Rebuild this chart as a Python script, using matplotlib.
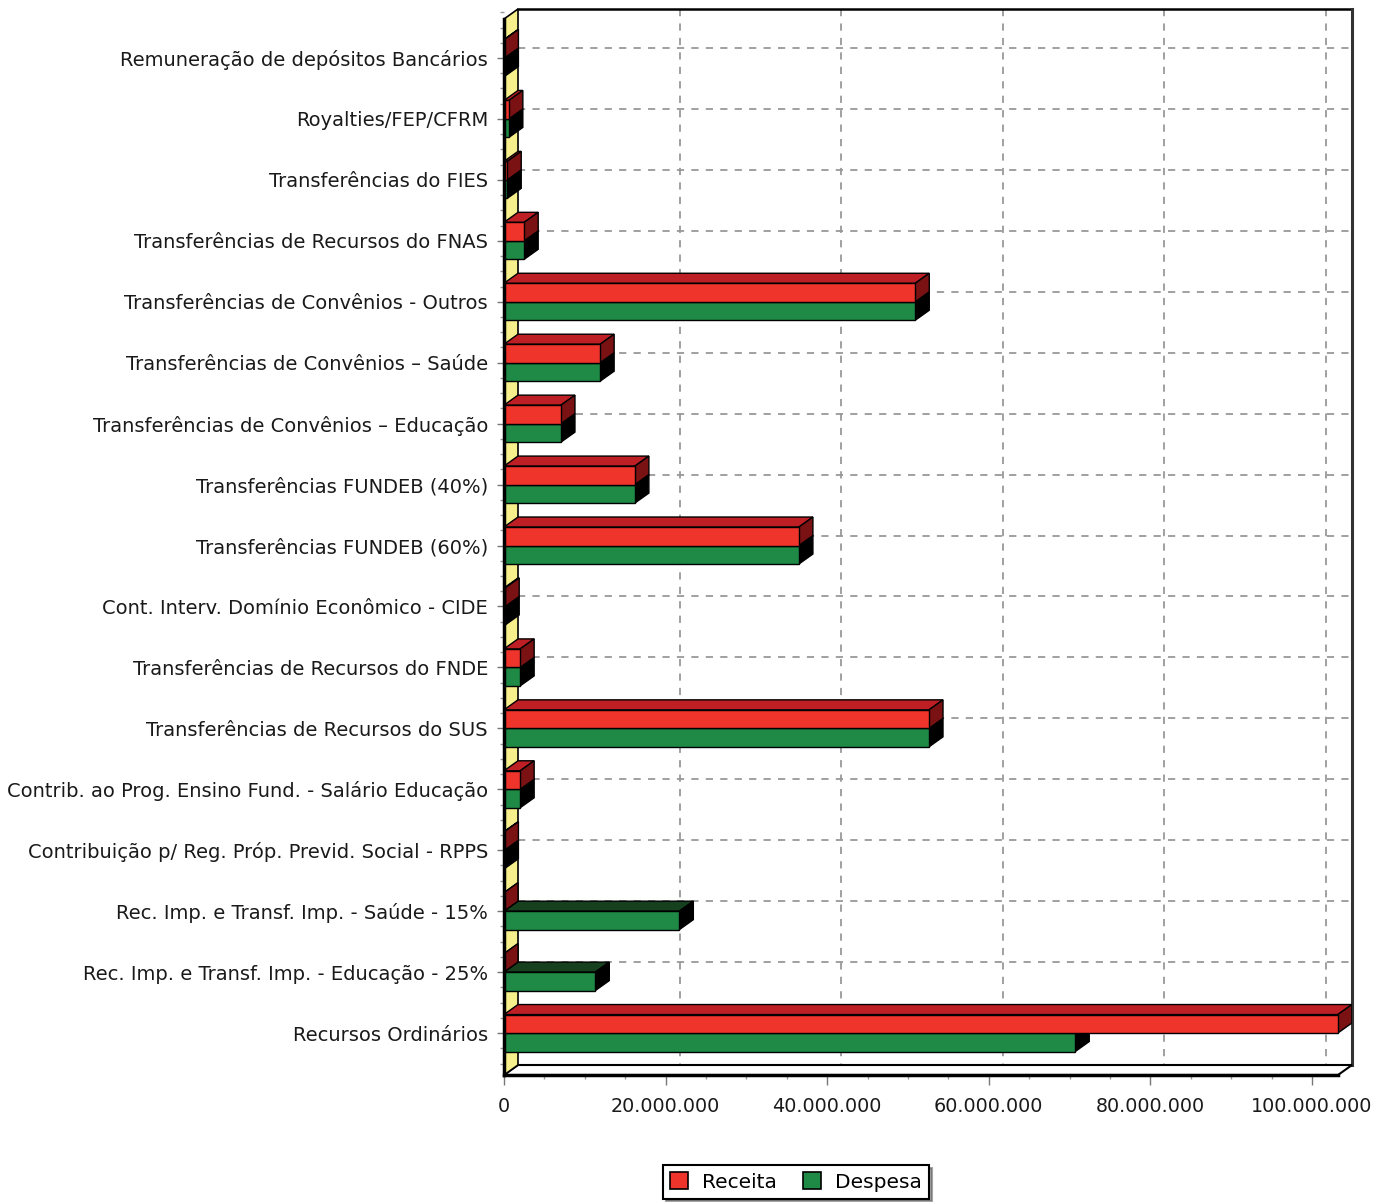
import numpy as np
import matplotlib.pyplot as plt
from matplotlib.patches import Polygon, Patch
from matplotlib.ticker import FuncFormatter, MultipleLocator

# Dados (R$)
categorias = [
    "Remuneração de depósitos Bancários",
    "Royalties/FEP/CFRM",
    "Transferências do FIES",
    "Transferências de Recursos do FNAS",
    "Transferências de Convênios - Outros",
    "Transferências de Convênios – Saúde",
    "Transferências de Convênios – Educação",
    "Transferências FUNDEB (40%)",
    "Transferências FUNDEB (60%)",
    "Cont. Interv. Domínio Econômico - CIDE",
    "Transferências de Recursos do FNDE",
    "Transferências de Recursos do SUS",
    "Contrib. ao Prog. Ensino Fund. - Salário Educação",
    "Contribuição p/ Reg. Próp. Previd. Social - RPPS",
    "Rec. Imp. e Transf. Imp. - Saúde - 15%",
    "Rec. Imp. e Transf. Imp. - Educação - 25%",
    "Recursos Ordinários",
]
receita = [0.05e6, 0.6e6, 0.4e6, 2.5e6, 50.9e6, 11.9e6, 7.05e6, 16.2e6, 36.5e6,
           0.15e6, 2.0e6, 52.6e6, 2.0e6, 0.05e6, 0.0, 0.0, 103.2e6]
despesa = [0.05e6, 0.6e6, 0.4e6, 2.5e6, 50.9e6, 11.9e6, 7.05e6, 16.2e6, 36.5e6,
           0.15e6, 2.0e6, 52.6e6, 2.0e6, 0.05e6, 21.7e6, 11.3e6, 70.7e6]
xticks = [0, 20e6, 40e6, 60e6, 80e6, 100e6]

W, H = 1386, 1202
fig = plt.figure(figsize=(W / 100, H / 100), dpi=100)
# caixa dos eixos em pixels: frente-esq x=504, fundo-dir x=1352, frente-baixo y=1075, fundo-topo y=9
ax = fig.add_axes([504 / W, 1 - 1075 / H, (1352 - 504) / W, (1075 - 9) / H])

px_per_unit = 8.08e-6
xmax = 848 / px_per_unit
band = 60.94
ybot = (1075 - 58) / band
ytop = -(58 - 9) / band
dx = 14 / px_per_unit
dy = 10 / band
th = 18.5 / band

ax.set_xlim(0, xmax)
ax.set_ylim(ybot, ytop)
for s in ax.spines.values():
    s.set_visible(False)

grid_kw = dict(color='#999999', lw=1.3, ls=(0, (4, 4)), zorder=1)
# grelha na parede de fundo
for v in xticks[1:]:
    ax.plot([v + dx, v + dx], [ytop, ybot - dy], **grid_kw)
for i in range(len(categorias)):
    ax.plot([dx, xmax], [i - dy, i - dy], **grid_kw)

# moldura de fundo
ax.plot([dx, xmax], [ytop, ytop], color='black', lw=1.8, zorder=2, clip_on=False)
ax.plot([xmax, xmax], [ytop, ybot - dy], color='#333333', lw=2.2, zorder=2, clip_on=False)

# piso
xf = xmax - dx
ax.add_patch(Polygon([(0, ybot), (xf, ybot), (xmax, ybot - dy), (dx, ybot - dy)],
                     closed=True, facecolor='white', edgecolor='black', lw=1.5, zorder=2, clip_on=False))
# parede esquerda
ax.add_patch(Polygon([(0, ybot), (0, ytop + dy), (dx, ytop), (dx, ybot - dy)],
                     closed=True, facecolor='#F6EF8C', edgecolor='black', lw=1.2, zorder=3, clip_on=False))


def bar3d(y0, y1, val, front, top, side):
    ax.add_patch(Polygon([(0, y0), (val, y0), (val + dx, y0 - dy), (dx, y0 - dy)],
                         closed=True, facecolor=top, edgecolor='black', lw=1, zorder=4))
    ax.add_patch(Polygon([(val, y0), (val + dx, y0 - dy), (val + dx, y1 - dy), (val, y1)],
                         closed=True, facecolor=side, edgecolor='black', lw=1, zorder=4))
    ax.add_patch(Polygon([(0, y0), (val, y0), (val, y1), (0, y1)],
                         closed=True, facecolor=front, edgecolor='black', lw=1, zorder=4))


for i in range(len(categorias)):
    bar3d(i, i + th, despesa[i], '#1E8A45', '#17401F', '#000000')
    bar3d(i - th, i, receita[i], '#EF342C', '#BE1F25', '#7A1214')

# linhas frontais
ax.plot([0, 0], [ytop + dy, ybot], color='black', lw=2.5, zorder=5, clip_on=False)
ax.plot([0, xf], [ybot, ybot], color='black', lw=2.5, zorder=5, clip_on=False)

ax.set_yticks(range(len(categorias)))
ax.set_yticklabels(categorias)
ax.yaxis.set_minor_locator(MultipleLocator(0.25))
ax.set_xticks(xticks)
ax.xaxis.set_major_formatter(FuncFormatter(lambda v, p: f"{v:,.0f}".replace(",", ".")))
ax.xaxis.set_minor_locator(MultipleLocator(5e6))
ax.tick_params(axis='both', which='major', length=5, width=1, color='#777777',
               labelsize=14, labelcolor='#1a1a1a')
ax.tick_params(axis='both', which='minor', length=3, width=1, color='#999999')
ax.tick_params(axis='y', which='major', pad=6.5)
ax.tick_params(axis='x', which='major', pad=9, length=7, labelsize=13.8)

handles = [Patch(facecolor='#EF342C', edgecolor='black', lw=1.2),
           Patch(facecolor='#1E8A45', edgecolor='black', lw=1.2)]
leg = fig.legend(handles, ['Receita', 'Despesa'], loc='center',
                 bbox_to_anchor=(796 / W, 1 - 1182 / H), ncol=2, frameon=True,
                 fancybox=False, shadow=True, edgecolor='black', fontsize=14.5,
                 handlelength=0.9, handleheight=0.9, columnspacing=1.3,
                 handletextpad=0.7, borderpad=0.35)
leg.get_frame().set_linewidth(1.5)

fig.savefig('out.png', dpi=100)
